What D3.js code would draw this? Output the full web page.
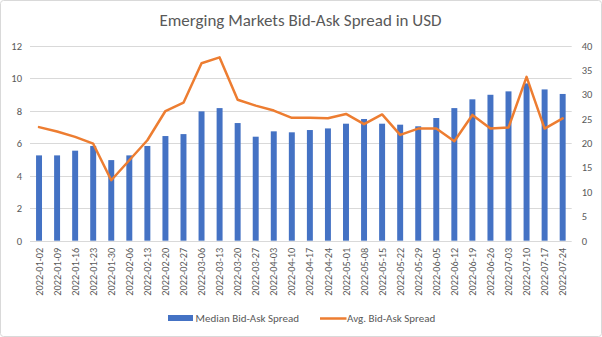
<!DOCTYPE html>
<html><head><meta charset="utf-8">
<script src="https://cdn.jsdelivr.net/npm/d3@7"></script>
<style>body{margin:0;background:#fff}svg{display:block}</style>
</head><body>
<script>
const dates = ["2022-01-02","2022-01-09","2022-01-16","2022-01-23","2022-01-30","2022-02-06","2022-02-13","2022-02-20","2022-02-27","2022-03-06","2022-03-13","2022-03-20","2022-03-27","2022-04-03","2022-04-10","2022-04-17","2022-04-24","2022-05-01","2022-05-08","2022-05-15","2022-05-22","2022-05-29","2022-06-05","2022-06-12","2022-06-19","2022-06-26","2022-07-03","2022-07-10","2022-07-17","2022-07-24"];
const medianSpread = [5.25,5.25,5.54,5.83,4.96,5.25,5.83,6.44,6.56,7.96,8.16,7.24,6.4,6.73,6.67,6.81,6.91,7.2,7.49,7.2,7.14,7.04,7.55,8.16,8.7,8.98,9.19,9.68,9.31,9.03];
const avgSpread = [23.3,22.4,21.3,19.9,12.4,16.5,20.6,26.6,28.3,36.4,37.6,28.9,27.7,26.7,25.2,25.2,25.1,26.0,23.9,25.9,21.7,23.0,23.0,20.4,25.8,23.0,23.2,33.6,23.0,25.1];
const leftTicks = [0,2,4,6,8,10,12];
const rightTicks = [0,5,10,15,20,25,30,35,40];
const title = "Emerging Markets Bid-Ask Spread in USD";
const legendLabels = ["Median Bid-Ask Spread","Avg. Bid-Ask Spread"];

const W=602,H=337;
const font = "Calibri, Carlito, Lato, sans-serif";
const txt = "#595959";
const svg = d3.select("body").append("svg").attr("width",W).attr("height",H);
svg.append("rect").attr("x",0.5).attr("y",0.5).attr("width",W-1).attr("height",H-1).attr("rx",3)
  .attr("fill","#fff").attr("stroke","#d9d9d9");

const x0=30, x1=571.7, yBot=240.7, yTop=45.7;
const x = d3.scaleBand().domain(dates).range([x0,x1]).paddingInner(0.67).paddingOuter(0.335);
const yL = d3.scaleLinear().domain([0,12]).range([yBot,yTop]);
const yR = d3.scaleLinear().domain([0,40]).range([yBot,yTop]);

// grid
svg.append("g").selectAll("line").data(leftTicks).join("line")
  .attr("x1",x0).attr("x2",x1).attr("y1",d=>Math.round(yL(d))+0.5).attr("y2",d=>Math.round(yL(d))+0.5)
  .attr("stroke","#d9d9d9").attr("stroke-width",1);

// left axis
const gl = svg.append("g").attr("transform",`translate(${x0-8},0)`)
  .call(d3.axisLeft(yL).tickValues(leftTicks).tickSize(0).tickPadding(0));
gl.select(".domain").remove();
gl.selectAll("text").attr("fill",txt).style("font-family",font).style("font-size","10.5px");

// right axis
const gr = svg.append("g").attr("transform",`translate(${x1+10},0)`)
  .call(d3.axisRight(yR).tickValues(rightTicks).tickSize(0).tickPadding(0));
gr.select(".domain").remove();
gr.selectAll("text").attr("fill",txt).style("font-family",font).style("font-size","10.5px");

// bars
svg.append("g").selectAll("rect").data(medianSpread).join("rect")
  .attr("x",(d,i)=>x(dates[i])).attr("width",x.bandwidth())
  .attr("y",d=>yL(d)).attr("height",d=>yBot-yL(d)).attr("fill","#4472C4");

// line
svg.append("path").datum(avgSpread)
  .attr("d",d3.line().x((d,i)=>x(dates[i])+x.bandwidth()/2).y(d=>yR(d)))
  .attr("fill","none").attr("stroke","#ED7D31").attr("stroke-width",2.5).attr("stroke-linejoin","round").attr("stroke-linecap","round");

// x labels
const gx = svg.append("g").attr("transform",`translate(0,${yBot})`)
  .call(d3.axisBottom(x).tickSize(0).tickPadding(0));
gx.select(".domain").remove();
gx.selectAll("text").attr("fill",txt).style("font-family",font).style("font-size","10.3px")
  .attr("transform","rotate(-90)").attr("text-anchor","end").attr("dy","0.35em").attr("x",-7).attr("y",0);

// title
svg.append("text").attr("x",300.5).attr("y",26).attr("text-anchor","middle")
  .attr("fill",txt).style("font-family",font).style("font-size","17px").text(title);

// legend
const lg = svg.append("g");
lg.append("rect").attr("x",168).attr("y",315).attr("width",25).attr("height",6).attr("fill","#4472C4");
lg.append("text").attr("x",195.5).attr("y",318).attr("dy","0.35em").attr("fill",txt)
  .style("font-family",font).style("font-size","11px").text(legendLabels[0]);
lg.append("line").attr("x1",320).attr("x2",346.5).attr("y1",318.5).attr("y2",318.5)
  .attr("stroke","#ED7D31").attr("stroke-width",2.5);
lg.append("text").attr("x",347).attr("y",318).attr("dy","0.35em").attr("fill",txt)
  .style("font-family",font).style("font-size","11px").text(legendLabels[1]);
</script>
</body></html>
